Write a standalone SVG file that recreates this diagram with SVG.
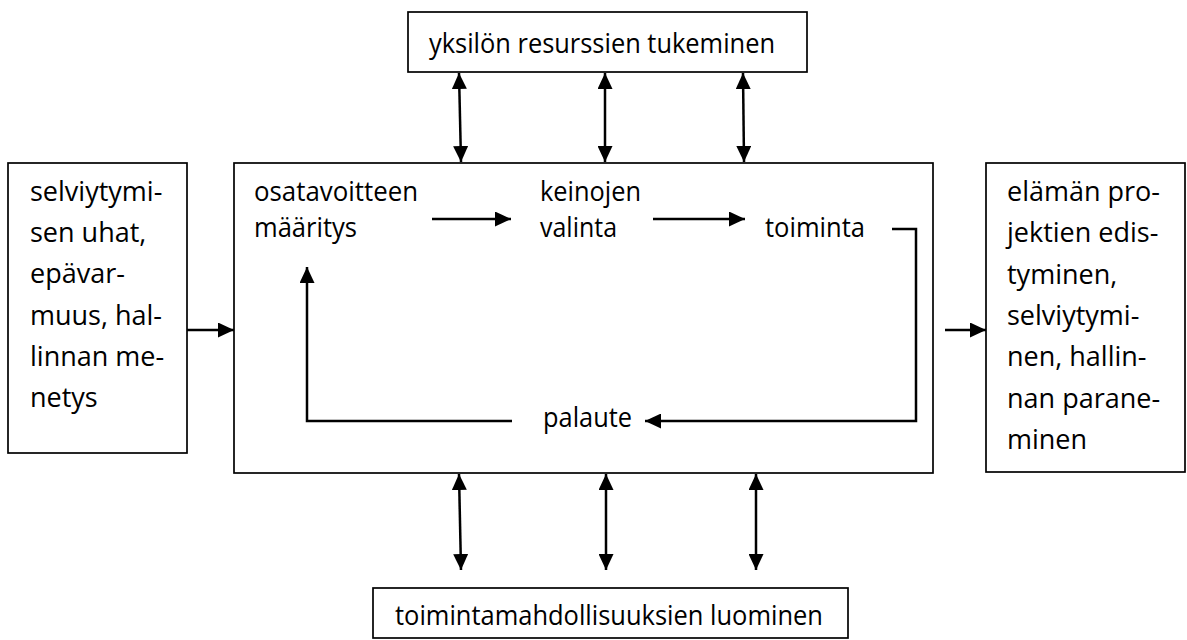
<svg xmlns="http://www.w3.org/2000/svg" width="1187" height="640" viewBox="0 0 1187 640">
  <style>
    .box { fill: #ffffff; stroke: #000000; stroke-width: 1.7; }
    .txt { font-family: "Open Sans", "Noto Sans", "Liberation Sans", sans-serif; font-size: 27px; fill: #000000; }
    .arr { fill: none; stroke: #000000; stroke-width: 2.5; }
  </style>
  <defs>
    <marker id="ah" viewBox="0 0 16 15" refX="16" refY="7.5" markerWidth="16" markerHeight="15" markerUnits="userSpaceOnUse" orient="auto-start-reverse">
      <path d="M0,0 L16,7.5 L0,15 z" fill="#000000"/>
    </marker>
  </defs>
  <rect width="1187" height="640" fill="#ffffff"/>

  <g id="node-top">
    <rect class="box" x="408" y="12" width="399" height="60"/>
    <text class="txt" x="429" y="53" textLength="346" lengthAdjust="spacingAndGlyphs">yksilön resurssien tukeminen</text>
  </g>

  <g id="node-left">
    <rect class="box" x="8" y="163" width="179" height="290"/>
    <text class="txt" x="30" y="201">selviytymi-</text>
    <text class="txt" x="30" y="242">sen uhat,</text>
    <text class="txt" x="30" y="283">epävar-</text>
    <text class="txt" x="30" y="325">muus, hal-</text>
    <text class="txt" x="30" y="366">linnan me-</text>
    <text class="txt" x="30" y="407">netys</text>
  </g>

  <g id="node-main">
    <rect class="box" x="234" y="163" width="699" height="310"/>
  </g>

  <g id="node-osatavoite">
    <text class="txt" x="254" y="201" textLength="164" lengthAdjust="spacingAndGlyphs">osatavoitteen</text>
    <text class="txt" x="254" y="237" textLength="103" lengthAdjust="spacingAndGlyphs">määritys</text>
  </g>
  <g id="node-keinojen">
    <text class="txt" x="540" y="201" textLength="101" lengthAdjust="spacingAndGlyphs">keinojen</text>
    <text class="txt" x="540" y="237" textLength="77" lengthAdjust="spacingAndGlyphs">valinta</text>
  </g>
  <g id="node-toiminta">
    <text class="txt" x="765" y="237" textLength="100" lengthAdjust="spacingAndGlyphs">toiminta</text>
  </g>
  <g id="node-palaute">
    <text class="txt" x="543" y="427" textLength="89" lengthAdjust="spacingAndGlyphs">palaute</text>
  </g>

  <g id="node-right">
    <rect class="box" x="986" y="163" width="199" height="309"/>
    <text class="txt" x="1007" y="201">elämän pro-</text>
    <text class="txt" x="1007" y="242">jektien edis-</text>
    <text class="txt" x="1007" y="284">tyminen,</text>
    <text class="txt" x="1007" y="325">selviytymi-</text>
    <text class="txt" x="1007" y="366">nen, hallin-</text>
    <text class="txt" x="1007" y="408">nan parane-</text>
    <text class="txt" x="1007" y="449">minen</text>
  </g>

  <g id="node-bottom">
    <rect class="box" x="373" y="588" width="475" height="50"/>
    <text class="txt" x="395" y="625" textLength="428" lengthAdjust="spacingAndGlyphs">toimintamahdollisuuksien luominen</text>
  </g>

  <g id="connectors">
    <line class="arr" x1="432" y1="219" x2="511" y2="219" marker-end="url(#ah)"/>
    <line class="arr" x1="653" y1="219" x2="745" y2="219" marker-end="url(#ah)"/>
    <polyline class="arr" points="892,229 916,229 916,421 645,421" marker-end="url(#ah)"/>
    <polyline class="arr" points="512,421 307,421 307,267" marker-end="url(#ah)"/>
    <line class="arr" x1="187" y1="330" x2="234" y2="330" marker-end="url(#ah)"/>
    <line class="arr" x1="945" y1="330" x2="986" y2="330" marker-end="url(#ah)"/>

    <line class="arr" x1="459" y1="73" x2="461" y2="162" marker-start="url(#ah)" marker-end="url(#ah)"/>
    <line class="arr" x1="605" y1="73" x2="605" y2="162" marker-start="url(#ah)" marker-end="url(#ah)"/>
    <line class="arr" x1="743" y1="73" x2="744" y2="162" marker-start="url(#ah)" marker-end="url(#ah)"/>

    <line class="arr" x1="459" y1="474" x2="461" y2="570" marker-start="url(#ah)" marker-end="url(#ah)"/>
    <line class="arr" x1="606" y1="474" x2="606" y2="570" marker-start="url(#ah)" marker-end="url(#ah)"/>
    <line class="arr" x1="756" y1="474" x2="756" y2="570" marker-start="url(#ah)" marker-end="url(#ah)"/>
  </g>
</svg>
